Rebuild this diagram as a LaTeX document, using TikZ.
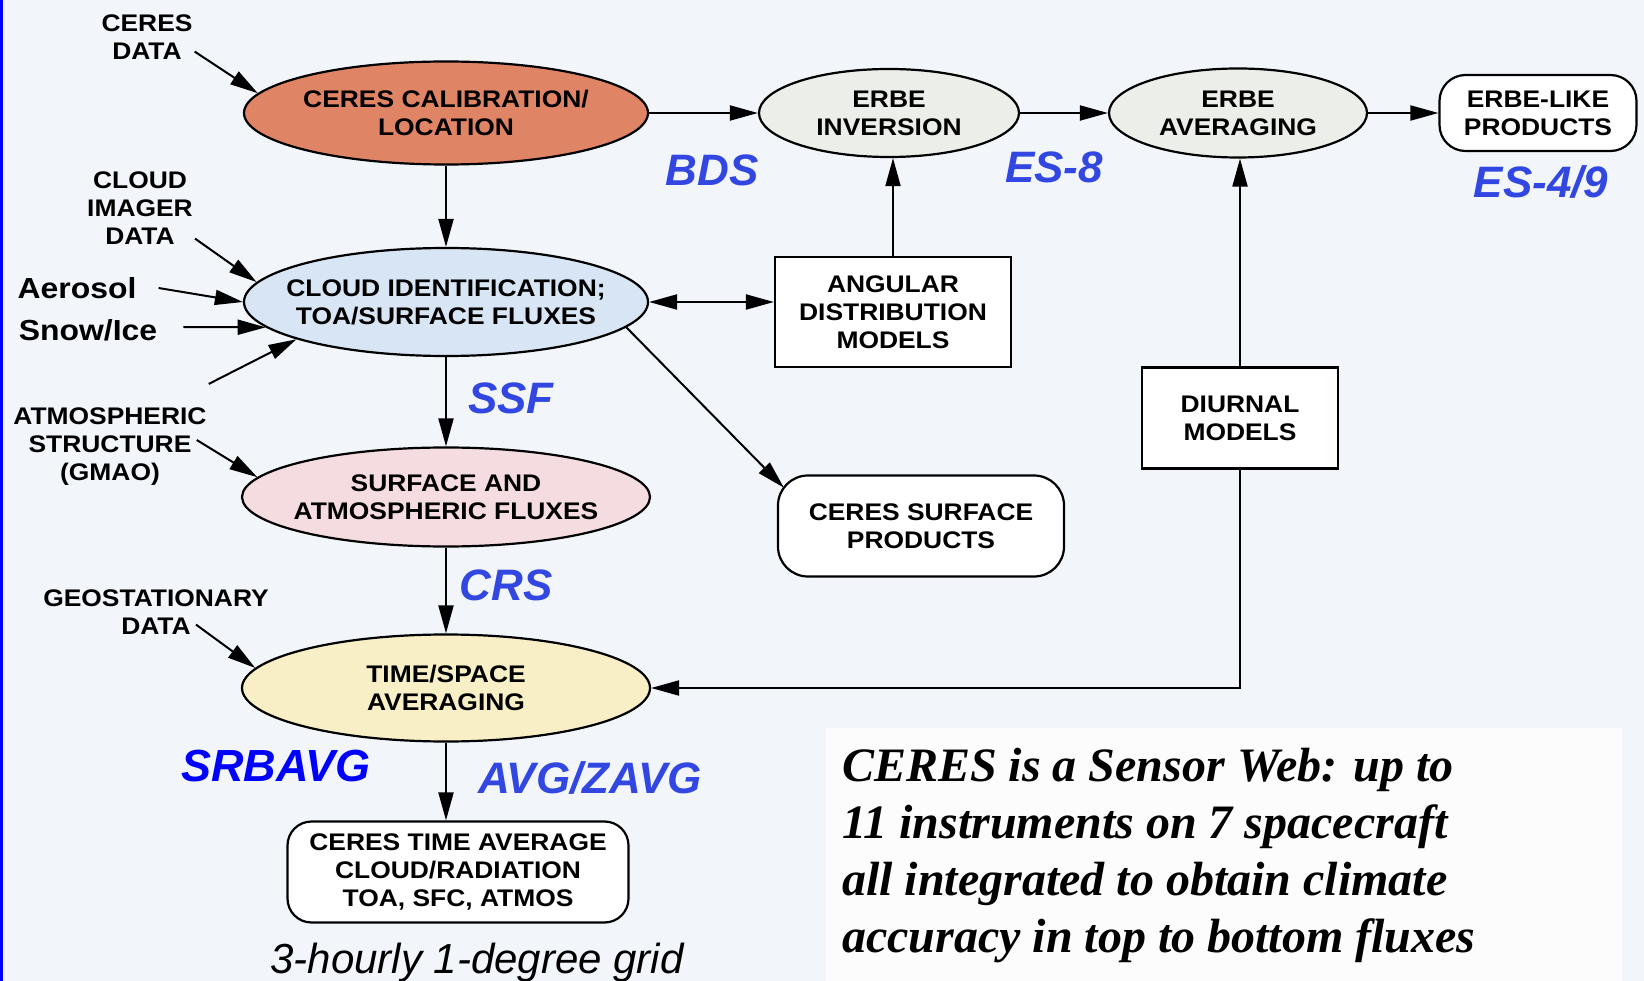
\documentclass[tikz,border=0pt]{standalone}
\usepackage{fontspec}
\usepackage{xcolor}
\usetikzlibrary{arrows.meta,shapes.geometric,positioning}
\setmainfont{Liberation Sans}
\newfontfamily\boxfont[FakeStretch=1.1]{Liberation Sans}
\newfontfamily\webfont{Liberation Serif}
\definecolor{bgcol}{RGB}{242,246,250}
\definecolor{patchcol}{RGB}{251,252,251}
\definecolor{calibcol}{RGB}{224,132,102}
\definecolor{cloudcol}{RGB}{216,229,245}
\definecolor{surfcol}{RGB}{245,220,224}
\definecolor{avgcol}{RGB}{248,239,198}
\definecolor{erbecol}{RGB}{236,238,234}
\definecolor{tagblue}{RGB}{50,70,225}

\begin{document}
\begin{tikzpicture}[x=1pt, y=-1pt, node distance=443pt,
    >={Triangle[length=28pt,width=15pt]},
    oval/.style={ellipse, draw, line width=2.2pt, inner xsep=-30pt, inner ysep=0pt, align=center,
        font=\boxfont\bfseries\fontsize{24}{28}\selectfont},
    box/.style={rectangle, draw, fill=white, line width=2.2pt, align=center,
        font=\boxfont\bfseries\fontsize{24}{28}\selectfont},
    rbox/.style={box, rounded corners=26pt},
    lbl/.style={align=center, inner sep=2pt, font=\boxfont\bfseries\fontsize{24}{28}\selectfont},
    big/.style={inner sep=2pt, font=\boxfont\bfseries\fontsize{29}{34}\selectfont},
    tag/.style={inner sep=1pt, text=tagblue, font=\bfseries\itshape\fontsize{44}{50}\selectfont},
    web/.style={inner sep=0pt, anchor=base west, font=\webfont\bfseries\itshape\fontsize{48}{57}\selectfont},
    flow/.style={->, line width=2pt}]

    % page
    \fill[bgcol] (0,0) rectangle (1644,981);
    \useasboundingbox (0,0) rectangle (1644,981);
    \fill[patchcol] (826,728) rectangle (1622,981);
    \fill[blue] (0,0) rectangle (3,981);

    % processing chain
    \node[oval, fill=calibcol, minimum width=404pt, minimum height=103pt] (calib) at (446,113) {CERES CALIBRATION/\\LOCATION};
    \node[oval, fill=erbecol, minimum width=260pt, minimum height=88pt, right of=calib] (erbeinv) {ERBE\\INVERSION};
    \node[oval, fill=erbecol, minimum width=258pt, minimum height=89pt, right of=erbeinv, node distance=349pt] (erbeavg) {ERBE\\AVERAGING};
    \node[rbox, minimum width=197pt, minimum height=76pt, right of=erbeavg, node distance=300pt] (erbelike) {ERBE-LIKE\\PRODUCTS};

    \node[oval, fill=cloudcol, minimum width=404pt, minimum height=108pt] (cloudid) at (446,302) {CLOUD IDENTIFICATION;\\TOA/SURFACE FLUXES};
    \node[oval, fill=surfcol, minimum width=408pt, minimum height=99pt] (surf) at (446,497) {SURFACE AND\\ATMOSPHERIC FLUXES};
    \node[oval, fill=avgcol, minimum width=408pt, minimum height=107pt] (tsavg) at (446,688) {TIME/SPACE\\AVERAGING};
    \node[rbox, minimum width=341pt, minimum height=101pt, rounded corners=24pt] (ctime) at (458,872) {CERES TIME AVERAGE\\CLOUD/RADIATION\\TOA, SFC, ATMOS};

    \node[box, minimum width=236pt, minimum height=110pt] (angular) at (893,312) {ANGULAR\\DISTRIBUTION\\MODELS};
    \node[box, minimum width=196pt, minimum height=101pt] (diurnal) at (1240,418) {DIURNAL\\MODELS};
    \node[rbox, minimum width=286pt, minimum height=101pt, rounded corners=30pt] (csurf) at (921,526) {CERES SURFACE\\PRODUCTS};

    % inputs
    \node[lbl] (ceresdata) at (147,37) {CERES\\DATA};
    \node[lbl] (cimager) at (140,208) {CLOUD\\IMAGER\\DATA};
    \node[big] (aerosol) at (77,288) {Aerosol};
    \node[big] (snowice) at (88,330) {Snow/Ice};
    \node[lbl] (atmos) at (110,447) {ATMOSPHERIC\\STRUCTURE\\(GMAO)};
    \node[lbl] (geo) at (156,612) {GEOSTATIONARY\\DATA};

    % product names
    \node[tag] (bds) at (712,170) {BDS};
    \node[tag] (es8) at (1054,167) {ES-8};
    \node[tag] (es49) at (1541,182) {ES-4/9};
    \node[tag] (ssf) at (511,398) {SSF};
    \node[tag] (crs) at (506,585) {CRS};
    \node[tag] (avgz) at (590,778) {AVG/ZAVG};
    \node[tag, text=blue, font=\bfseries\itshape\fontsize{45}{50}\selectfont] (srbavg) at (276,766) {SRBAVG};
    \node[font=\itshape\fontsize{42}{48}\selectfont] (grid) at (477,963) {3-hourly 1-degree grid};

    \foreach \txt [count=\i] in {CERES is a Sensor Web: up to, 11 instruments on 7 spacecraft,
        all integrated to obtain climate, accuracy in top to bottom fluxes}
        \node[web] (web\i) at (842,{781+57.3*(\i-1)}) {\txt};

    % connectors
    \draw[flow] (calib) -- (erbeinv);
    \draw[flow] (erbeinv) -- (erbeavg);
    \draw[flow] (erbeavg) -- (erbelike);
    \draw[flow] (calib) -- (cloudid);
    \draw[flow] (cloudid) -- (surf);
    \draw[flow] (surf) -- (tsavg);
    \draw[flow] (tsavg.south) -- (tsavg.south |- ctime.north);
    \draw[flow, <->] (cloudid.east) -- (cloudid.east -| angular.west);
    \draw[flow] (angular.north) -- (angular.north |- erbeinv.south);
    \draw[flow] (diurnal.north) -- (diurnal.north |- erbeavg.south);
    \draw[flow] (diurnal.south) |- (tsavg.east);
    \draw[flow] (cloudid.352) -- ([xshift=7pt,yshift=-3pt]csurf.164);

    \draw[flow] ([yshift=10pt]ceresdata.south east) -- (calib.174);
    \draw[flow] ([yshift=8pt]cimager.south east) -- (cloudid.174);
    \draw[flow] ([xshift=20pt]aerosol.east) -- (cloudid.180);
    \draw[flow] ([xshift=24pt,yshift=3pt]snowice.east) -- (cloudid.188);
    \draw[flow] ([yshift=22pt]atmos.north east) -- (cloudid.194);
    \draw[flow] ([xshift=-12pt,yshift=7pt]atmos.east) -- (surf.174);
    \draw[flow] ([xshift=40pt,yshift=12pt]geo.south) -- (tsavg.174);
\end{tikzpicture}
\end{document}
